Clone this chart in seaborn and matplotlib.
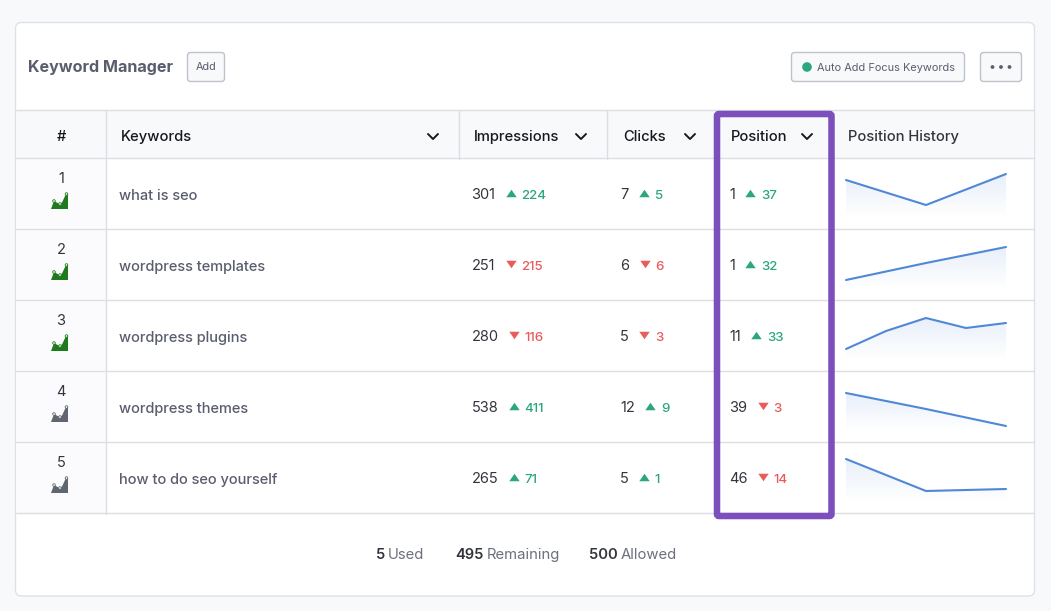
import numpy as np
import seaborn as sns
import matplotlib.pyplot as plt
from matplotlib.patches import FancyBboxPatch, Rectangle, Polygon, Circle

W, H = 1051, 611

# table data
ranks = [1, 2, 3, 4, 5]
keywords = ["what is seo", "wordpress templates", "wordpress plugins", "wordpress themes", "how to do seo yourself"]
impressions = [301, 251, 280, 538, 265]
impressions_delta = [224, -215, -116, 411, 71]
clicks = [7, 6, 5, 12, 5]
clicks_delta = [5, -6, -3, 9, 1]
positions = [1, 1, 11, 39, 46]
positions_delta = [37, 32, 33, -3, -14]
icon_active = [True, True, True, False, False]
history_1 = [38, 13, 44]
history_2 = [9, 26, 42]
history_3 = [11, 29, 42, 32, 37]
history_4 = [38, 22, 5]
history_5 = [43, 11, 13]
histories = [history_1, history_2, history_3, history_4, history_5]

columns = ["Keywords", "Impressions", "Clicks", "Position", "Position History"]
footer_counts = ["5", "495", "500"]
footer_labels = ["Used", "Remaining", "Allowed"]

BG = "#f8f9fb"
LINE = "#dddee4"
DARK = "#33353d"
GREY = "#5a5d6e"
GREEN = "#2ba780"
RED = "#e85c5c"
PURPLE = "#7d4fbd"
BLUE = "#5088d6"

UP = [(-1, -0.72), (1, -0.72), (0, 0.72)]
DOWN = [(-1, 0.72), (1, 0.72), (0, -0.72)]

sns.set_theme(style="white")
plt.rcParams["font.family"] = ["Inter", "DejaVu Sans"]

fig = plt.figure(figsize=(W / 100, H / 100), dpi=100, facecolor=BG)
ax = fig.add_axes([0, 0, 1, 1])
ax.set_xlim(0, W)
ax.set_ylim(H, 0)
ax.axis("off")


def box(x0, y0, x1, y1, fc, ec, lw=1.0, r=3, z=2):
    ax.add_patch(FancyBboxPatch((x0 + r, y0 + r), x1 - x0 - 2 * r, y1 - y0 - 2 * r,
                                boxstyle=f"round,pad={r},rounding_size={r}",
                                fc=fc, ec=ec, lw=lw, zorder=z))


def label(x, y, s, size=10.5, color=DARK, weight="normal", ha="left"):
    # baseline anchored so that descenders do not move the text around
    return ax.text(x, y + 0.51 * size, s, fontsize=size, color=color, fontweight=weight,
                   ha=ha, va="baseline", zorder=6)


def chevron(x, y=136.5):
    ax.plot([x - 5, x, x + 5], [y - 2.5, y + 2.5, y - 2.5], color="#16181d", lw=1.4, zorder=6)


def rank_icon(x, y, color):
    # little area chart next to the rank
    pts = [(0, 16), (3, 8), (8.5, 11), (11, 9.5), (15, 1), (17, 1), (17, 16)]
    ax.add_patch(Polygon([(x + a, y + b) for a, b in pts], fc=color, ec="none", zorder=5))
    for a, b in [(3, 8), (9, 11), (15.5, 1)]:
        ax.add_patch(Circle((x + a, y + b), 1.3, fc="white", ec=color, lw=0.6, zorder=6))


def value_cell(x, y, value, delta, renderer):
    t = label(x, y, str(value), size=10.5)
    end = ax.transData.inverted().transform(t.get_window_extent(renderer))[1][0]
    up = delta > 0
    color = GREEN if up else RED
    ax.plot(end + 15.5, y - 0.5, marker=UP if up else DOWN, ms=7.5, color=color, mew=0, zorder=6)
    label(end + 26, y + 0.5, str(abs(delta)), size=9.6, color=color, weight="medium")


# card, header band and rank column
box(15.5, 22.5, 1034.5, 596, "white", "#dfe1e7", r=6, z=1)
ax.add_patch(Rectangle((16, 111), 1018, 48, fc=BG, ec="none", zorder=1.5))
ax.add_patch(Rectangle((16, 159), 90, 355, fc="#fbfbfd", ec="none", zorder=1.5))

row_tops = [159, 230, 301, 372, 443, 514]
for y in [111] + row_tops:
    ax.plot([16, 1034], [y - 1, y - 1], color=LINE, lw=1, zorder=2)
ax.plot([106, 106], [111, 514], color=LINE, lw=1, zorder=2)
for x in [459, 607]:
    ax.plot([x, x], [111, 159], color=LINE, lw=1, zorder=2)

# title bar
label(28, 66.5, "Keyword Manager", size=11.6, color=GREY, weight="bold")
box(187.5, 52.5, 224.5, 81.5, BG, "#bfc2cb")
label(206, 66.5, "Add", size=7.8, color=GREY, ha="center")
box(791.5, 52.5, 964.5, 81.5, BG, "#bfc2cb")
ax.add_patch(Circle((807, 67), 4.8, fc=GREEN, ec="none", zorder=5))
label(817, 66.5, "Auto Add Focus Keywords", size=7.9, color=GREY)
box(980.5, 52.5, 1021.5, 81.5, BG, "#bfc2cb")
for x in [992.5, 1001, 1009.5]:
    ax.add_patch(Circle((x, 67), 1.9, fc=GREY, ec="none", zorder=5))

# header row
label(61, 135.5, "#", size=10.5, color="#16181d", weight="medium", ha="center")
for x, name in zip([121, 474, 623, 731, 848], columns):
    label(x, 135.5, name, size=10.6, color="#33353d" if name == "Position History" else "#16181d", weight="medium")
for x in [433, 581, 690, 807]:
    chevron(x)

# body rows
fig.canvas.draw()
renderer = fig.canvas.get_renderer()
for i, top in enumerate(row_tops[:-1]):
    label(61, top + 19, str(ranks[i]), size=10.5, ha="center")
    rank_icon(51, top + 34, "#1f7a1f" if icon_active[i] else "#5f6670")
    label(119, top + 36, keywords[i], size=10.5, color=GREY, weight="medium")
    value_cell(471.5, top + 34.5, impressions[i], impressions_delta[i], renderer)
    value_cell(620, top + 34.5, clicks[i], clicks_delta[i], renderer)
    value_cell(729, top + 34.5, positions[i], positions_delta[i], renderer)

    # sparkline with a fading area below it
    spark = fig.add_axes([846 / W, 1 - (top + 59) / H, 160 / W, 54 / H])
    spark.patch.set_alpha(0)
    xs = np.linspace(0, 1, len(histories[i]))
    sns.lineplot(x=xs, y=histories[i], ax=spark, color=BLUE, linewidth=1.5, legend=False, clip_on=False)
    grad = np.zeros((64, 2, 4))
    grad[..., :3] = [0.36, 0.56, 0.85]
    grad[..., 3] = np.linspace(0.14, 0, 64)[:, None]
    img = spark.imshow(grad, extent=[0, 1, 0, max(histories[i])], aspect="auto", zorder=1)
    area = Polygon(list(zip(xs, histories[i])) + [(1, 0), (0, 0)], transform=spark.transData, fc="none", ec="none")
    spark.add_patch(area)
    img.set_clip_path(area)
    spark.set_xlim(0, 1)
    spark.set_ylim(0, 54)
    spark.axis("off")

# highlight around the Position column
box(717, 114, 831.5, 516, "none", PURPLE, lw=4.7, r=2, z=7)

# footer
for xc, xl, c, name in zip([376, 455, 589], [388, 487, 621], footer_counts, footer_labels):
    label(xc, 553.5, c, size=10.6, color=DARK, weight="semibold")
    label(xl, 553.5, name, size=10.7, color="#6c6f7d")

fig.savefig("out.png", dpi=100, facecolor=BG)
